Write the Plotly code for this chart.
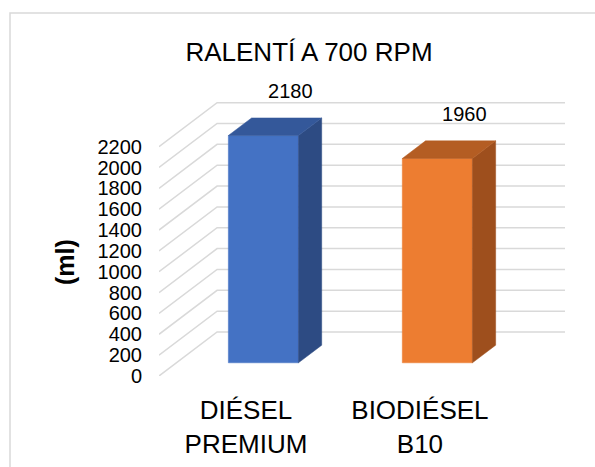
import plotly.graph_objects as go

# Fuel consumption at idle (700 RPM)
categories = ["DIÉSEL<br>PREMIUM", "BIODIÉSEL<br>B10"]
values = [2180, 1960]
tick_values = list(range(0, 2201, 200))
title_text = "RALENTÍ A 700 RPM"
axis_title = "(ml)"

front_colors = ["#4472C4", "#ED7D31"]
side_colors = ["#2D4B83", "#9E4F1D"]
top_colors = ["#34589A", "#B45D23"]

FONT = "Liberation Sans, Arial, sans-serif"

# Pseudo-3D geometry (in axis units): full depth of the box
DEPTH_X = 0.334      # category units
DEPTH_Y = 422        # value units
BAR_W = 0.403
FRONT_D = 0.3        # depth of the bar's front face
BACK_D = 0.7         # depth of the bar's back face

fig = go.Figure()

# Side wall (diagonal) and back wall (horizontal) gridlines
gx, gy = [], []
for v in tick_values:
    gx += [-0.5, -0.5 + DEPTH_X, 1.5 + DEPTH_X, None]
    gy += [v, v + DEPTH_Y, v + DEPTH_Y, None]
fig.add_trace(go.Scatter(x=gx, y=gy, mode="lines",
                         line=dict(color="#D9D9D9", width=1.5),
                         hoverinfo="skip", showlegend=False))

xs = list(range(len(values)))
fx = [i + FRONT_D * DEPTH_X for i in xs]
base = FRONT_D * DEPTH_Y
ddx = (BACK_D - FRONT_D) * DEPTH_X
ddy = (BACK_D - FRONT_D) * DEPTH_Y


def face(px, py, color):
    fig.add_trace(go.Scatter(
        x=px, y=py, fill="toself", fillcolor=color, mode="lines",
        line=dict(width=0.5, color=color),
        hoverinfo="skip", showlegend=False))


# Front, side and top faces of each column
for i, v in enumerate(values):
    l = fx[i] - BAR_W / 2
    r = fx[i] + BAR_W / 2
    top = base + v
    face([l, r, r, l, l], [base, base, top, top, base], front_colors[i])
    face([r, r + ddx, r + ddx, r, r],
         [base, base + ddy, top + ddy, top, base], side_colors[i])
    face([l, r, r + ddx, l + ddx, l],
         [top, top, top + ddy, top + ddy, top], top_colors[i])

# Value labels
fig.add_trace(go.Scatter(
    x=[i + 0.255 for i in xs], y=[v + 535 for v in values],
    text=[str(v) for v in values], mode="text",
    textposition="middle center", cliponaxis=False,
    textfont=dict(family=FONT, size=20, color="#000000"),
    hoverinfo="skip", showlegend=False))

W, H = 595, 467
ML, MR, MT, MB = 159, 30, 70, 91
plot_w = W - ML - MR
plot_h = H - MT - MB
y_max = plot_h / (20.85 / 200)

# Axis title
fig.add_annotation(xref="paper", yref="paper", x=(65 - ML) / plot_w,
                   y=(H - MB - 262) / plot_h, text="<b>" + axis_title + "</b>",
                   textangle=-90, showarrow=False,
                   xanchor="center", yanchor="middle",
                   font=dict(family=FONT, size=25, color="#000000"))

# Chart frame
fig.add_shape(type="rect", xref="paper", yref="paper",
              x0=(10 - ML) / plot_w, x1=(620 - ML) / plot_w,
              y0=(H - MB - 490) / plot_h, y1=(H - MB - 13) / plot_h,
              line=dict(color="#D9D9D9", width=1.5), layer="below")

fig.update_layout(
    width=W, height=H,
    margin=dict(l=ML, r=MR, t=MT, b=MB, autoexpand=False),
    paper_bgcolor="white", plot_bgcolor="rgba(0,0,0,0)",
    title=dict(text=title_text, x=309 / W, xanchor="center",
               y=1 - 52 / H, yanchor="middle", yref="container",
               font=dict(family=FONT, size=26, color="#000000")),
    xaxis=dict(range=[-0.5, 1.5 + DEPTH_X], tickvals=xs, ticktext=categories,
               showgrid=False, zeroline=False, showline=False, ticks="",
               ticklabelstandoff=16, automargin=False,
               tickfont=dict(family=FONT, size=26, color="#000000")),
    yaxis=dict(range=[0, y_max], tickvals=tick_values, showgrid=False,
               zeroline=False, showline=False, ticks="",
               ticklabelstandoff=16, automargin=False,
               tickfont=dict(family=FONT, size=20, color="#000000")),
)

fig.write_html("out.html")
